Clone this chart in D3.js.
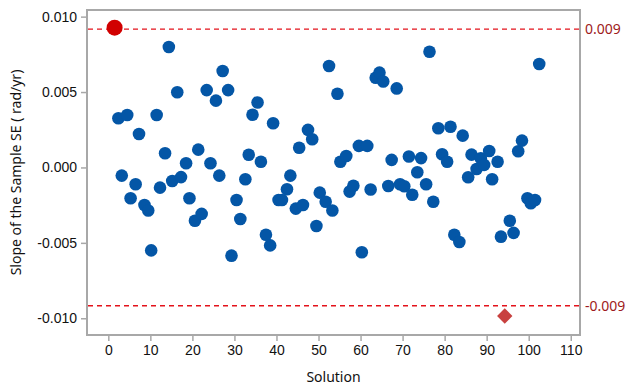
<!DOCTYPE html>
<html>
<head>
<meta charset="utf-8">
<script src="https://cdn.jsdelivr.net/npm/d3@7"></script>
<style>
  body { margin: 0; background: #fff; }
  svg { display: block; font-family: "Noto Sans", "Open Sans", sans-serif; }
</style>
</head>
<body>
<div id="container"></div>
<script>
// Solution number (as placed on the x axis) and slope of the sample SE
const solutions = [
  1.5, 2.4, 3.2, 4.5, 5.3, 6.5, 7.3, 8.6, 9.5, 10.2,
  11.5, 12.3, 13.5, 14.4, 15.2, 16.4, 17.3, 18.5, 19.3, 20.6,
  21.4, 22.2, 23.4, 24.3, 25.6, 26.4, 27.2, 28.5, 29.3, 30.5,
  31.4, 32.6, 33.4, 34.3, 35.5, 36.3, 37.5, 38.5, 39.2, 40.5,
  41.3, 42.5, 43.3, 44.6, 45.4, 46.3, 47.5, 48.5, 49.5, 50.3,
  51.7, 52.5, 53.3, 54.5, 55.2, 56.6, 57.4, 58.3, 59.6, 60.3,
  61.6, 62.4, 63.6, 64.5, 65.4, 66.6, 67.4, 68.6, 69.4, 70.4,
  71.5, 72.3, 73.5, 74.4, 75.6, 76.4, 77.3, 78.5, 79.4, 80.6,
  81.4, 82.3, 83.5, 84.3, 85.6, 86.4, 87.6, 88.6, 89.4, 90.6,
  91.3, 92.6, 93.4, 94.3, 95.5, 96.4, 97.5, 98.4, 99.7, 100.5,
  101.5, 102.5
];
const slopes = [
  0.00927, 0.00326, -0.00054, 0.00348, -0.00204, -0.00111, 0.00222, -0.00249, -0.00285, -0.0055,
  0.00348, -0.00134, 0.00094, 0.00799, -0.0009, 0.00499, -0.00064, 0.00028, -0.00204, -0.00353,
  0.00118, -0.00308, 0.00513, 0.00028, 0.00443, -0.00054, 0.0064, 0.00513, -0.00585, -0.00216,
  -0.00342, -0.00078, 0.00084, 0.00349, 0.00431, 0.00038, -0.00446, -0.00517, 0.00293, -0.00216,
  -0.00216, -0.00145, -0.00054, -0.00273, 0.00131, -0.00249, 0.00249, 0.00187, -0.00388, -0.00167,
  -0.00227, 0.00673, -0.00285, 0.00489, 0.00038, 0.00076, -0.0016, -0.00121, 0.00143, -0.00562,
  0.00143, -0.00146, 0.00595, 0.00629, 0.0057, -0.00123, 0.0005, 0.00524, -0.00111, -0.00125,
  0.00073, -0.00181, -0.00032, 0.00062, -0.00111, 0.00767, -0.00227, 0.0026, 0.00088, 0.00038,
  0.0027, -0.00446, -0.00494, 0.00211, -0.00065, 0.00085, -0.0001, 0.00061, 0.00017, 0.00109,
  -0.00078, 0.00038, -0.00459, -0.00985, -0.00353, -0.00434, 0.00107, 0.00178, -0.00204, -0.00237,
  -0.00216, 0.00686
];
// marker kind for each point: "hi" upper outlier, "lo" lower outlier, "n" normal
const kinds = solutions.map((s, i) => i === 0 ? "hi" : (i === 93 ? "lo" : "n"));

const xTicks = [0, 10, 20, 30, 40, 50, 60, 70, 80, 90, 100, 110];
const yTicks = [-0.010, -0.005, 0.000, 0.005, 0.010];
const limits = [
  { value: 0.00917, label: "0.009" },
  { value: -0.00917, label: "-0.009" }
];

const data = solutions.map((s, i) => ({ solution: s, slope: slopes[i], kind: kinds[i] }));

const W = 631, H = 389;
const frame = { left: 87, right: 580, top: 10, bottom: 335 };

const x = d3.scaleLinear().domain([-5.07, 112.2]).range([frame.left, frame.right]);
const y = d3.scaleLinear().domain([-0.01111, 0.01044]).range([frame.bottom, frame.top]);

const svg = d3.select("#container").append("svg")
  .attr("width", W)
  .attr("height", H);

const grey = "#a8a8a8";
const textColor = "#111";

// Axes
const xAxis = svg.append("g")
  .attr("transform", `translate(0,${frame.bottom})`)
  .call(d3.axisBottom(x).tickValues(xTicks).tickSize(6).tickPadding(4).tickFormat(d3.format("d")));
const yAxis = svg.append("g")
  .attr("transform", `translate(${frame.left},0)`)
  .call(d3.axisLeft(y).tickValues(yTicks).tickSize(6).tickPadding(4).tickFormat(d3.format(".3f")));

[xAxis, yAxis].forEach(a => {
  a.select(".domain").remove();
  a.selectAll(".tick line").attr("stroke", grey).attr("stroke-width", 1.5);
  a.selectAll(".tick text")
    .attr("fill", textColor)
    .style("font-size", "14px");
});
yAxis.selectAll(".tick text").text(d => d3.format(".3f")(d).replace("−", "-"));

// Frame
svg.append("rect")
  .attr("x", frame.left)
  .attr("y", frame.top)
  .attr("width", frame.right - frame.left)
  .attr("height", frame.bottom - frame.top)
  .attr("fill", "none")
  .attr("stroke", grey)
  .attr("stroke-width", 2);

// Reference lines
svg.selectAll("line.limit")
  .data(limits)
  .enter()
  .append("line")
  .attr("class", "limit")
  .attr("x1", frame.left + 1)
  .attr("x2", frame.right - 1)
  .attr("y1", d => y(d.value))
  .attr("y2", d => y(d.value))
  .attr("stroke", "#e3121b")
  .attr("stroke-width", 1.4)
  .attr("stroke-dasharray", "5,4");

svg.selectAll("text.limit")
  .data(limits)
  .enter()
  .append("text")
  .attr("class", "limit")
  .attr("x", frame.right + 5)
  .attr("y", d => y(d.value))
  .attr("dy", "0.35em")
  .attr("fill", "#9e1a20")
  .style("font-size", "14px")
  .text(d => d.label);

// Points
svg.selectAll("circle.pt")
  .data(data.filter(d => d.kind === "n"))
  .enter()
  .append("circle")
  .attr("class", "pt")
  .attr("cx", d => x(d.solution))
  .attr("cy", d => y(d.slope))
  .attr("r", 6.3)
  .attr("fill", "#0456a6");

svg.selectAll("circle.hi")
  .data(data.filter(d => d.kind === "hi"))
  .enter()
  .append("circle")
  .attr("class", "hi")
  .attr("cx", d => x(d.solution))
  .attr("cy", d => y(d.slope))
  .attr("r", 8)
  .attr("fill", "#d10000");

svg.selectAll("path.lo")
  .data(data.filter(d => d.kind === "lo"))
  .enter()
  .append("path")
  .attr("class", "lo")
  .attr("d", d3.symbol().type(d3.symbolDiamond2).size(150))
  .attr("transform", d => `translate(${x(d.solution)},${y(d.slope)})`)
  .attr("fill", "#c8413f");

// Axis titles
svg.append("text")
  .attr("x", (frame.left + frame.right) / 2)
  .attr("y", 382)
  .attr("text-anchor", "middle")
  .attr("fill", textColor)
  .style("font-size", "14px")
  .text("Solution");

svg.append("text")
  .attr("transform", `translate(21,${(frame.top + frame.bottom) / 2}) rotate(-90)`)
  .attr("text-anchor", "middle")
  .attr("fill", textColor)
  .style("font-size", "14px")
  .text("Slope of the Sample SE ( rad/yr)");
</script>
</body>
</html>
